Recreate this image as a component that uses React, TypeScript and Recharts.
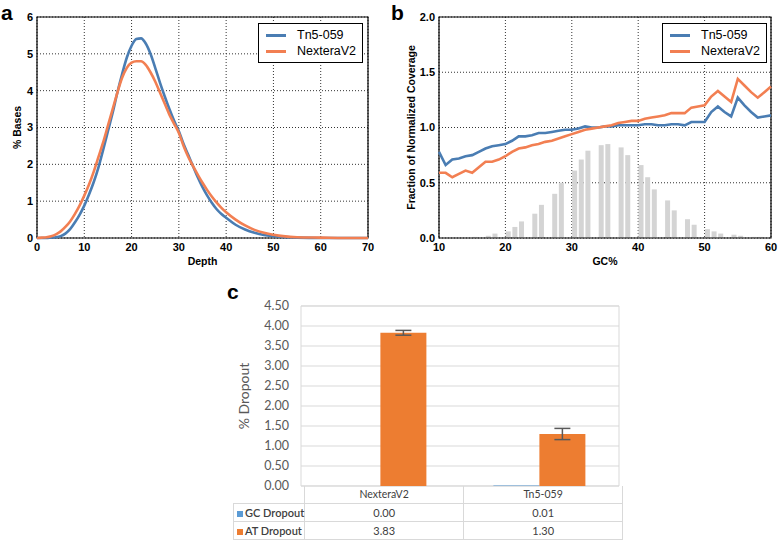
import React from 'react';
import {
  ComposedChart,
  LineChart,
  BarChart,
  Line,
  Bar,
  XAxis,
  YAxis,
  CartesianGrid,
  Legend,
  ReferenceArea,
  ErrorBar,
} from 'recharts';

// ---- panel a: depth distribution ----
const depth = [
  0, 1, 2, 3, 4, 5, 6, 7, 8, 9, 10, 11, 12, 13, 14, 15, 16, 17, 18, 19, 20, 21, 22, 23, 24, 25,
  26, 27, 28, 29, 30, 31, 32, 33, 34, 35, 36, 37, 38, 39, 40, 42, 44, 46, 48, 50, 52, 55, 60, 65, 70,
];
const tn5Bases = [
  0, 0, 0, 0.01, 0.02, 0.05, 0.12, 0.24, 0.42, 0.63, 0.88, 1.18, 1.52, 1.92, 2.4, 2.9, 3.4, 3.95,
  4.45, 4.9, 5.22, 5.4, 5.42, 5.28, 5.0, 4.62, 4.22, 3.85, 3.5, 3.18, 2.9, 2.55, 2.25, 1.95, 1.65,
  1.38, 1.15, 0.95, 0.78, 0.65, 0.55, 0.36, 0.23, 0.14, 0.08, 0.05, 0.03, 0.01, 0, 0, 0,
];
const nexteraBases = [
  0, 0.01, 0.02, 0.05, 0.1, 0.18, 0.3, 0.45, 0.65, 0.88, 1.15, 1.45, 1.8, 2.2, 2.6, 3.05, 3.5, 3.95,
  4.35, 4.62, 4.76, 4.8, 4.8, 4.7, 4.5, 4.25, 3.95, 3.65, 3.35, 3.1, 2.85, 2.5, 2.2, 1.95, 1.72, 1.5,
  1.3, 1.12, 0.96, 0.82, 0.7, 0.5, 0.34, 0.22, 0.14, 0.09, 0.05, 0.02, 0.01, 0, 0,
];
const depthTicks = [0, 10, 20, 30, 40, 50, 60, 70];
const basesTicks = [0, 1, 2, 3, 4, 5, 6];

// ---- panel b: GC bias ----
const gcPct = [
  10, 11, 12, 13, 14, 15, 16, 17, 18, 19, 20, 21, 22, 23, 24, 25, 26, 27, 28, 29, 30, 31, 32, 33, 34,
  35, 36, 37, 38, 39, 40, 41, 42, 43, 44, 45, 46, 47, 48, 49, 50, 51, 52, 53, 54, 55, 56, 57, 58, 59, 60,
];
const tn5Cov = [
  0.78, 0.66, 0.71, 0.72, 0.74, 0.75, 0.78, 0.81, 0.83, 0.84, 0.85, 0.88, 0.92, 0.92, 0.93, 0.95,
  0.95, 0.96, 0.97, 0.98, 0.98, 0.99, 1.01, 1.0, 1.0, 1.01, 1.01, 1.02, 1.02, 1.02, 1.02, 1.03, 1.03,
  1.02, 1.02, 1.03, 1.03, 1.02, 1.05, 1.05, 1.05, 1.14, 1.19, 1.14, 1.1, 1.27, 1.2, 1.14, 1.09, 1.1, 1.11,
];
const nexteraCov = [
  0.59, 0.59, 0.55, 0.58, 0.61, 0.59, 0.64, 0.69, 0.69, 0.71, 0.74, 0.78, 0.81, 0.82, 0.84, 0.85,
  0.87, 0.88, 0.9, 0.92, 0.94, 0.96, 0.98, 0.99, 1.0, 1.01, 1.02, 1.04, 1.05, 1.06, 1.06, 1.08, 1.09,
  1.1, 1.11, 1.13, 1.13, 1.13, 1.18, 1.19, 1.2, 1.28, 1.33, 1.28, 1.23, 1.44, 1.38, 1.32, 1.27, 1.32, 1.37,
];
// grey histogram of genome GC content (bin centres)
const gcBins = [
  15.4, 17.4, 18.4, 20.4, 21.4, 22.4, 24.4, 25.4, 27.4, 28.4, 30.4, 31.4, 32.4, 34.4, 35.4, 37.4,
  38.4, 40.4, 41.4, 42.4, 44.4, 45.4, 47.4, 48.4, 50.4, 51.4, 52.4, 54.4, 55.4, 57.4, 58.4,
];
const gcHist = [
  0.01, 0.02, 0.04, 0.06, 0.1, 0.15, 0.22, 0.3, 0.4, 0.5, 0.61, 0.71, 0.79, 0.84, 0.85, 0.82, 0.75,
  0.66, 0.55, 0.44, 0.34, 0.25, 0.17, 0.12, 0.08, 0.06, 0.04, 0.03, 0.02, 0.01, 0.01,
];
const gcTicks = [10, 20, 30, 40, 50, 60];
const covTicks = [0, 0.5, 1, 1.5, 2];

// ---- panel c: dropout ----
const libraries = ['NexteraV2', 'Tn5-059'];
const gcDropout = [0.0, 0.01];
const atDropout = [3.83, 1.3];
const atDropoutErr = [0.06, 0.14];
const dropoutTicks = [0, 0.5, 1, 1.5, 2, 2.5, 3, 3.5, 4, 4.5];

const seriesOrder = ['Tn5-059', 'NexteraV2'];

const BLUE = '#4a7db3';
const ORANGE = '#f27f52';
const XL_BLUE = '#5b9bd5';
const XL_ORANGE = '#ed7d31';

const depthData = depth.map((d, i) => ({ depth: d, tn5: tn5Bases[i], nextera: nexteraBases[i] }));
const covData = gcPct.map((g, i) => ({ gc: g, tn5: tn5Cov[i], nextera: nexteraCov[i] }));
const histData = gcBins.map((g, i) => ({ gc: g, frac: gcHist[i] }));
const dropoutData = libraries.map((name, i) => ({
  name,
  gc: gcDropout[i],
  at: atDropout[i],
  atErr: atDropoutErr[i],
}));

const MPL_FONT = '"Liberation Sans", Arial, sans-serif';
const XL_FONT = 'Lato, "Open Sans", sans-serif';
const mplTick = { fontFamily: MPL_FONT, fontSize: 11, fontWeight: 700, fill: '#000' };
const gridStroke = '#333';

// rotated y-axis title placed dx px from the axis box's left edge
const vLabel = (text: string, dx: number, style: React.CSSProperties) => (props: any) => {
  const vb = props.viewBox || {};
  const x = (vb.x ?? 0) + dx;
  const y = (vb.y ?? 0) + (vb.height ?? 0) / 2;
  return (
    <text
      x={x}
      y={y}
      transform={`rotate(-90 ${x} ${y})`}
      textAnchor="middle"
      dominantBaseline="central"
      style={style}
    >
      {text}
    </text>
  );
};

const MplLegend = (props: any) => {
  const items = [...(props.payload || [])].sort(
    (p: any, q: any) => seriesOrder.indexOf(p.value) - seriesOrder.indexOf(q.value),
  );
  return (
    <div
      style={{
        border: '1.5px solid #000',
        background: '#fff',
        padding: '3px 0 3px 7px',
        width: 96,
        fontFamily: MPL_FONT,
        fontSize: 12.5,
        color: '#000',
      }}
    >
      {items.map((p: any) => (
        <div key={p.value} style={{ display: 'flex', alignItems: 'center', height: 16 }}>
          <span style={{ width: 20, height: 3, background: p.color, marginRight: 11 }} />
          <span>{p.value}</span>
        </div>
      ))}
    </div>
  );
};

const panelLetter = (txt: string, left: number, top: number) => (
  <div
    style={{
      position: 'absolute',
      left,
      top,
      fontFamily: MPL_FONT,
      fontWeight: 700,
      fontSize: 21,
      lineHeight: '24px',
      color: '#000',
    }}
  >
    {txt}
  </div>
);

const cellBorder = '1px solid #d9d9d9';

export default function App() {
  return (
    <div
      style={{
        position: 'absolute',
        left: 0,
        top: 0,
        width: 778,
        height: 541,
        background: '#fff',
        overflow: 'hidden',
      }}
    >
      {panelLetter('a', 1, 1)}
      {panelLetter('b', 391, 1)}
      {panelLetter('c', 227, 280)}

      {/* a */}
      <div style={{ position: 'absolute', left: 0, top: 0 }}>
        <LineChart width={390} height={270} data={depthData} margin={{ top: 17, right: 22, left: 0, bottom: 0 }}>
          <CartesianGrid stroke={gridStroke} strokeDasharray="1 2" />
          <XAxis
            dataKey="depth"
            type="number"
            domain={[0, 70]}
            ticks={depthTicks}
            interval={0}
            height={32}
            axisLine={false}
            tickLine={false}
            tickSize={3}
            tickMargin={2}
            tick={mplTick}
            label={{ value: 'Depth', position: 'insideBottom', offset: 5, style: { ...mplTick, fontSize: 10.5 } }}
          />
          <YAxis
            type="number"
            domain={[0, 6]}
            ticks={basesTicks}
            interval={0}
            width={37}
            axisLine={false}
            tickLine={false}
            tickSize={2}
            tickMargin={2}
            tick={mplTick}
            label={vLabel('% Bases', 17, { ...mplTick, fontSize: 10.5 })}
          />
          <ReferenceArea y1={0} y2={6} fill="none" fillOpacity={0} stroke="#000" strokeWidth={1.2} />
          <Line type="monotone" dataKey="tn5" name="Tn5-059" stroke={BLUE} strokeWidth={2.6} dot={false} isAnimationActive={false} />
          <Line type="monotone" dataKey="nextera" name="NexteraV2" stroke={ORANGE} strokeWidth={2.6} dot={false} isAnimationActive={false} />
          <Legend
            layout="vertical"
            align="center"
            verticalAlign="middle"
            content={MplLegend}
            wrapperStyle={{ left: 258, top: 23, width: 105 }}
          />
        </LineChart>
      </div>

      {/* b: grid + histogram underneath */}
      <div style={{ position: 'absolute', left: 390, top: 0 }}>
        <ComposedChart width={388} height={270} data={histData} margin={{ top: 17, right: 7, left: 49, bottom: 32 }}>
          <CartesianGrid stroke={gridStroke} strokeDasharray="1 2" />
          <XAxis dataKey="gc" type="number" domain={[10, 60]} ticks={gcTicks} hide />
          <YAxis type="number" domain={[0, 2]} ticks={covTicks} hide />
          <Bar dataKey="frac" fill="#d4d4d4" barSize={5} isAnimationActive={false} />
        </ComposedChart>
      </div>
      {/* b: coverage lines on top */}
      <div style={{ position: 'absolute', left: 390, top: 0 }}>
        <LineChart width={388} height={270} data={covData} margin={{ top: 17, right: 7, left: 0, bottom: 0 }}>
          <XAxis
            dataKey="gc"
            type="number"
            domain={[10, 60]}
            ticks={gcTicks}
            interval={0}
            height={32}
            axisLine={false}
            tickLine={false}
            tickSize={3}
            tickMargin={2}
            tick={mplTick}
            label={{ value: 'GC%', position: 'insideBottom', offset: 5, style: { ...mplTick, fontSize: 10.5 } }}
          />
          <YAxis
            type="number"
            domain={[0, 2]}
            ticks={covTicks}
            interval={0}
            tickFormatter={(v: number) => v.toFixed(1)}
            width={49}
            axisLine={false}
            tickLine={false}
            tickSize={2}
            tickMargin={2}
            tick={mplTick}
            label={vLabel('Fraction of Normalized Coverage', 21, { ...mplTick, fontSize: 10.5 })}
          />
          <ReferenceArea y1={0} y2={2} fill="none" fillOpacity={0} stroke="#000" strokeWidth={1.2} />
          <Line type="linear" dataKey="tn5" name="Tn5-059" stroke={BLUE} strokeWidth={2.6} dot={false} isAnimationActive={false} />
          <Line type="linear" dataKey="nextera" name="NexteraV2" stroke={ORANGE} strokeWidth={2.6} dot={false} isAnimationActive={false} />
          <Legend
            layout="vertical"
            align="center"
            verticalAlign="middle"
            content={MplLegend}
            wrapperStyle={{ left: 272, top: 23, width: 105 }}
          />
        </LineChart>
      </div>

      {/* c: data table under the chart (drawn first so the axis labels sit above it) */}
      <table
        style={{
          position: 'absolute',
          left: 233,
          top: 486,
          borderCollapse: 'collapse',
          fontFamily: XL_FONT,
          fontSize: 11,
          color: '#404040',
          tableLayout: 'fixed',
        }}
      >
        <tbody>
          <tr style={{ height: 17 }}>
            <td style={{ width: 67, padding: 0 }} />
            {libraries.map((lib) => (
              <td
                key={lib}
                style={{ width: 158, padding: 0, textAlign: 'center', borderLeft: cellBorder, borderRight: cellBorder, fontSize: 10.5 }}
              >
                {lib}
              </td>
            ))}
          </tr>
          {[
            { label: 'GC Dropout', color: XL_BLUE, values: gcDropout },
            { label: 'AT Dropout', color: XL_ORANGE, values: atDropout },
          ].map((row) => (
            <tr key={row.label} style={{ height: 18 }}>
              <td style={{ padding: '0 0 0 3px', border: cellBorder, whiteSpace: 'nowrap', fontWeight: 600 }}>
                <span style={{ display: 'inline-block', width: 6, height: 6, background: row.color, marginRight: 2 }} />
                {row.label}
              </td>
              {row.values.map((v, i) => (
                <td key={i} style={{ padding: 0, border: cellBorder, textAlign: 'center' }}>
                  {v.toFixed(2)}
                </td>
              ))}
            </tr>
          ))}
        </tbody>
      </table>

      {/* c */}
      <div style={{ position: 'absolute', left: 230, top: 296 }}>
        <BarChart
          width={390}
          height={200}
          data={dropoutData}
          margin={{ top: 10, right: 1, left: 0, bottom: 10 }}
          barCategoryGap="21%"
          barGap={0}
        >
          <CartesianGrid vertical={false} stroke="#d9d9d9" />
          <XAxis dataKey="name" hide />
          <YAxis
            type="number"
            domain={[0, 4.5]}
            ticks={dropoutTicks}
            interval={0}
            tickFormatter={(v: number) => v.toFixed(2)}
            width={71}
            axisLine={false}
            tickLine={false}
            tickSize={0}
            tickMargin={12}
            tick={{ fontFamily: XL_FONT, fontSize: 12.5, fill: '#595959' }}
            label={vLabel('% Dropout', 13, { fontFamily: XL_FONT, fontSize: 14, fill: '#595959' })}
          />
          <ReferenceArea y1={0} y2={4.5} fill="none" fillOpacity={0} stroke="#d9d9d9" />
          <Bar dataKey="gc" name="GC Dropout" fill={XL_BLUE} isAnimationActive={false} />
          <Bar dataKey="at" name="AT Dropout" fill={XL_ORANGE} isAnimationActive={false}>
            <ErrorBar dataKey="atErr" width={8} stroke="#595959" strokeWidth={1.5} />
          </Bar>
        </BarChart>
      </div>
    </div>
  );
}
